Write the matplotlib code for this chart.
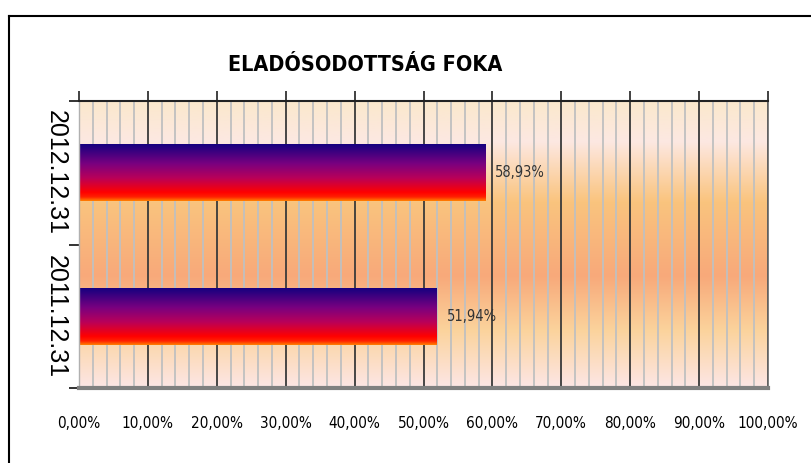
import numpy as np
import matplotlib.pyplot as plt
from matplotlib.colors import LinearSegmentedColormap
from matplotlib.lines import Line2D

# adatok
dates = ['2011.12.31', '2012.12.31']
values = [0.5194, 0.5893]
value_labels = ['51,94%', '58,93%']
x_ticks = np.arange(0, 1.01, 0.1)
x_tick_labels = [f'{v * 100:.2f}%'.replace('.', ',') for v in x_ticks]
title = 'ELADÓSODOTTSÁG FOKA'

W, H = 811, 463
fig = plt.figure(figsize=(W / 100, H / 100), dpi=100)
ax = fig.add_axes([79 / W, 1 - 388 / H, (768 - 79) / W, (388 - 101) / H])

# háttér színátmenet
bg = LinearSegmentedColormap.from_list('bg', [
    (0.0, '#fde6e6'), (0.2, '#fbd39c'), (0.39, '#f8a97a'),
    (0.65, '#fac47e'), (0.86, '#fde8e2'), (1.0, '#fbe8cc')])
grad = np.linspace(1, 0, 256).reshape(-1, 1)
ax.imshow(grad, cmap=bg, extent=[0, 1, 0, 1], transform=ax.transAxes,
          aspect='auto', zorder=0, vmin=0, vmax=1)

# oszlopok
bar_cmap = LinearSegmentedColormap.from_list('bar', [
    (0.0, '#10007f'), (0.35, '#780080'), (0.6, '#b8005a'),
    (0.85, '#ff0000'), (0.93, '#ff2000'), (1.0, '#ff8000')])
ypos = np.arange(len(dates))
bars = ax.barh(ypos, values, height=0.4, color='none', zorder=2)
vgrad = np.linspace(0, 1, 256).reshape(-1, 1)
for b in bars:
    im = ax.imshow(vgrad, cmap=bar_cmap, aspect='auto', zorder=2,
                   extent=[b.get_x(), b.get_x() + b.get_width(),
                           b.get_y(), b.get_y() + b.get_height()])
    im.set_clip_path(b)

for y, v, lab in zip(ypos, values, value_labels):
    ax.text(v + 0.014, y, lab, va='center', ha='left', fontsize=10.5,
            family='DejaVu Sans', stretch='condensed', color='#333333', zorder=3)

ax.set_xlim(0, 1)
ax.set_ylim(-0.5, len(dates) - 0.5)

# rácsvonalak
ax.set_xticks(x_ticks)
ax.set_xticklabels(x_tick_labels, family='DejaVu Sans', stretch='condensed', fontsize=11)
ax.set_xticks(np.arange(0, 1.001, 0.02), minor=True)
ax.grid(True, axis='x', which='minor', color='#c0c0c0', lw=1.3)
ax.grid(True, axis='x', which='major', color='#3a3a3a', lw=1.3)
ax.set_axisbelow(True)
ax.tick_params(axis='x', which='major', top=True, bottom=False, direction='out',
               length=7, width=1.3, color='#333333', pad=13, labelbottom=True)
ax.tick_params(axis='x', which='minor', top=False, bottom=False)

ax.set_yticks([-0.5, 0.5, 1.5])
ax.set_yticklabels([])
ax.set_yticks(ypos, minor=True)
ax.set_yticklabels(dates, minor=True, rotation=-90, va='center',
                   family='Liberation Sans', fontsize=18)
ax.tick_params(axis='y', which='major', direction='out', length=7, width=1.3,
               color='#222222')
ax.tick_params(axis='y', which='minor', length=0, pad=8)

ax.spines['top'].set_color('#222222')
ax.spines['top'].set_linewidth(1.5)
ax.spines['bottom'].set_color('#808080')
ax.spines['bottom'].set_linewidth(3)
ax.spines['left'].set_color('#b0b0b0')
ax.spines['left'].set_linewidth(1)
ax.spines['right'].set_color('#666666')
ax.spines['right'].set_linewidth(1.2)

fig.text(365 / W, 1 - 65 / H, title, ha='center', va='center',
         fontsize=15.5, fontweight='bold', family='DejaVu Sans', stretch='condensed')

# keret
fig.add_artist(Line2D([9 / W, 9 / W], [0, 1 - 16 / H], color='black', lw=1.5,
                      transform=fig.transFigure))
fig.add_artist(Line2D([9 / W, 1], [1 - 16 / H, 1 - 16 / H], color='black', lw=1.5,
                      transform=fig.transFigure))

fig.savefig('out.png', dpi=100)
